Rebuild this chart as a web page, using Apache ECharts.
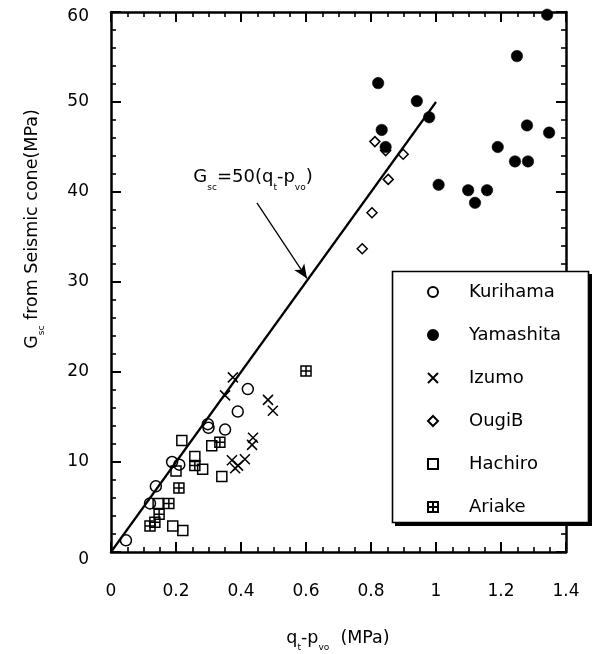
<!DOCTYPE html>
<html>
<head>
<meta charset="utf-8">
<script src="https://cdn.jsdelivr.net/npm/echarts@6/dist/echarts.min.js"></script>
<style>
html,body{margin:0;padding:0;background:#fff;}
#chart{width:602px;height:654px;}
</style>
</head>
<body>
<div id="chart"></div>
<script>
// ---- data (q_t - p_vo [MPa], G_sc [MPa]) ----
var kurihama = [[0.046,1.3],[0.12,5.4],[0.138,7.3],[0.188,10.0],[0.21,9.7],[0.298,14.2],[0.30,13.8],[0.351,13.6],[0.39,15.6],[0.421,18.1]];
var yamashita = [[0.822,52.1],[0.941,50.1],[0.979,48.3],[0.833,46.9],[0.845,45.0],[1.008,40.8],[1.099,40.2],[1.12,38.8],[1.157,40.2],[1.19,45.0],[1.243,43.4],[1.283,43.4],[1.28,47.4],[1.348,46.6],[1.249,55.1],[1.342,59.7]];
var izumo = [[0.375,19.4],[0.351,17.4],[0.483,16.9],[0.498,15.7],[0.437,12.7],[0.434,11.9],[0.372,10.2],[0.412,10.3],[0.382,9.3],[0.391,9.6]];
var ougib = [[0.812,45.6],[0.899,44.2],[0.845,44.6],[0.853,41.4],[0.803,37.7],[0.773,33.7]];
var hachiro = [[0.218,12.4],[0.258,10.6],[0.31,11.8],[0.282,9.2],[0.2,9.0],[0.341,8.4],[0.145,5.4],[0.19,2.9],[0.221,2.4]];
var ariake = [[0.6,20.1],[0.335,12.2],[0.258,9.6],[0.209,7.1],[0.178,5.4],[0.148,4.2],[0.135,3.3],[0.12,2.9]];
var seriesNames = ['Kurihama','Yamashita','Izumo','OugiB','Hachiro','Ariake'];
var fitX = [0, 1];
var fitY = [0, 50];
var arrowFrom = [0.449, 38.8];
var arrowTo = [0.603, 30.4];
var eqPos = [0.437, 41.6];
var xMin = 0, xMax = 1.4, xStep = 0.2;
var yMin = 0, yMax = 60, yStep = 10;

var FONT = '"DejaVu Sans", Verdana, sans-serif';
var black = '#000';
var subRich = {
  m: {fontSize: 17.5, fontFamily: FONT, color: black, lineHeight: 18, verticalAlign: 'top'},
  s: {fontSize: 9, fontFamily: FONT, color: black, lineHeight: 9, padding: [14,0,0,0], verticalAlign: 'top'}
};

var openStyle = {color: 'rgba(255,255,255,0)', borderColor: black, borderWidth: 1.5, opacity: 1};
var symX = 'path://M0,0L10,10M10,0L0,10';
var symBoxPlus = 'path://M0,0L10,0L10,10L0,10ZM5,0L5,10M0,5L10,5';

function axisCommon(isX, pos, showLabel) {
  return {
    type: 'value',
    position: pos,
    min: isX ? xMin : yMin,
    max: isX ? xMax : yMax,
    interval: isX ? xStep : yStep,
    axisLine: {show: true, onZero: false, lineStyle: {color: black, width: 2.5}},
    axisTick: {show: true, inside: true, length: 10, lineStyle: {color: black, width: 2}},
    minorTick: {show: true, splitNumber: isX ? 4 : 5, length: 5, lineStyle: {color: black, width: 1.6}},
    splitLine: {show: false},
    axisLabel: {
      show: showLabel,
      color: black,
      fontSize: 17,
      fontFamily: FONT,
      margin: isX ? 31 : 22,
      formatter: isX ? undefined : function (v) {
        if (v === 60) return '{t|60}';
        if (v === 0) return '{b|0}';
        return String(v);
      },
      rich: {
        t: {fontSize: 17, fontFamily: FONT, color: black, padding: [10,0,0,0]},
        b: {fontSize: 17, fontFamily: FONT, color: black, padding: [16,0,0,0]}
      }
    }
  };
}

var chart = echarts.init(document.getElementById('chart'), null, {renderer: 'canvas'});
var option = {
  animation: false,
  backgroundColor: '#fff',
  grid: {left: 111, right: 36, top: 12, bottom: 102, containLabel: false},
  xAxis: [axisCommon(true, 'bottom', true), axisCommon(true, 'top', false)],
  yAxis: [axisCommon(false, 'left', true), axisCommon(false, 'right', false)],
  legend: {
    data: seriesNames,
    orient: 'vertical',
    left: 392,
    top: 271,
    z: 12,
    itemWidth: 10,
    itemHeight: 10,
    itemGap: 25,
    padding: [12, 29, 10, 35],
    backgroundColor: 'transparent',
    borderWidth: 0,
    selectedMode: false,
    textStyle: {fontSize: 18, fontFamily: FONT, color: black, lineHeight: 18, padding: [0, 0, 0, 26]}
  },
  graphic: [
    {type: 'rect', z: 9, silent: true,
     shape: {x: 395, y: 274, width: 197, height: 252},
     style: {fill: black}},
    {type: 'rect', z: 10, silent: true,
     shape: {x: 392.5, y: 271.5, width: 196, height: 251},
     style: {fill: '#fff', stroke: black, lineWidth: 1.6}},
    {type: 'text', x: 338, y: 638, z: 10,
     style: {text: '{m|q}{s|t}{m|-p}{s|vo}{m|  (MPa)}', rich: subRich, align: 'center', verticalAlign: 'middle'}},
    {type: 'text', x: 32, y: 229, rotation: Math.PI / 2, z: 10,
     style: {text: '{m|G}{s|sc}{m| from Seismic cone(MPa)}', rich: subRich, align: 'center', verticalAlign: 'middle'}}
  ],
  series: [
    {name: 'Kurihama', type: 'scatter', data: kurihama, symbol: 'circle', symbolSize: 11, itemStyle: openStyle, z: 3},
    {name: 'Yamashita', type: 'scatter', data: yamashita, symbol: 'circle', symbolSize: 11.5, itemStyle: {color: black, borderColor: black, borderWidth: 0.5, opacity: 1}, z: 3},
    {name: 'Izumo', type: 'scatter', data: izumo, symbol: symX, symbolSize: 10, itemStyle: openStyle, z: 3},
    {name: 'OugiB', type: 'scatter', data: ougib, symbol: 'diamond', symbolSize: 10, itemStyle: openStyle, z: 3},
    {name: 'Hachiro', type: 'scatter', data: hachiro, symbol: 'rect', symbolSize: 10, itemStyle: openStyle, z: 3},
    {name: 'Ariake', type: 'scatter', data: ariake, symbol: symBoxPlus, symbolSize: 10, itemStyle: openStyle, z: 3},
    {
      name: 'fit', type: 'line', z: 2,
      data: fitX.map(function (x, i) { return [x, fitY[i]]; }),
      symbol: 'none',
      lineStyle: {color: black, width: 2.2},
      markLine: {
        silent: true, symbol: ['none', 'arrow'], symbolSize: [9, 14], precision: 3,
        label: {show: false},
        lineStyle: {color: black, width: 1.3, type: 'solid'},
        data: [[{coord: arrowFrom}, {coord: arrowTo}]]
      },
      markPoint: {
        silent: true, symbol: 'circle', symbolSize: 0,
        label: {show: true, position: 'inside', formatter: '{m|G}{s|sc}{m|=50(q}{s|t}{m|-p}{s|vo}{m|)}', rich: {
          m: {fontSize: 18, fontFamily: FONT, color: black, lineHeight: 19, verticalAlign: 'top'},
          s: {fontSize: 9, fontFamily: FONT, color: black, lineHeight: 9, padding: [15,0,0,0], verticalAlign: 'top'}
        }},
        data: [{coord: eqPos}]
      }
    }
  ]
};
chart.setOption(option);
</script>
</body>
</html>
